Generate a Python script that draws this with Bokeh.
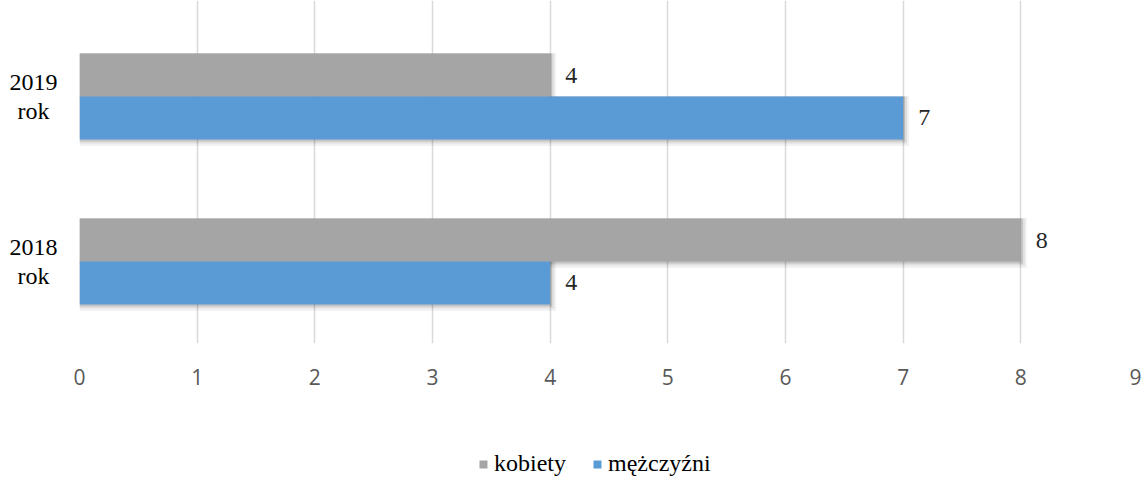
from bokeh.plotting import figure
from bokeh.layouts import column, row
from bokeh.models import Range1d, FixedTicker, Legend, LegendItem, ColumnDataSource
from bokeh.core.properties import value
from bokeh.embed import file_html
from bokeh.resources import INLINE

# ---- data ----
categories = ["2018\nrok", "2019\nrok"]
series_names = ["kobiety", "mężczyźni"]
kobiety = [8, 4]
mezczyzni = [4, 7]
x_ticks = [0, 1, 2, 3, 4, 5, 6, 7, 8, 9]

GREY = "#A5A5A5"
BLUE = "#5B9BD5"
SERIF = "'Liberation Serif', 'Times New Roman', serif"

# ---- layout constants ----
TOTAL_W = 1141
LW = 71                      # width of category-label strip
W, H = TOTAL_W - LW, 403
ML, MR, MT, MB = 8, 3, 0, 60
frame_w = W - ML - MR
frame_h = H - MT - MB
x0, x1 = 0, 9
px_x = (x1 - x0) / frame_w
yr = Range1d(0.503, 2.582)
px_y = (yr.end - yr.start) / frame_h
bar_h = 0.26

centers = [i + 1 for i in range(len(categories))]
y_k = [c + bar_h / 2 for c in centers]
y_m = [c - bar_h / 2 for c in centers]

src = ColumnDataSource(dict(yk=y_k, ym=y_m, k=kobiety, m=mezczyzni,
                            kl=[str(v) for v in kobiety], ml=[str(v) for v in mezczyzni]))

p = figure(width=W, height=H, output_backend="svg", toolbar_location=None,
           x_range=Range1d(x0, x1), y_range=yr, y_axis_location=None,
           min_border_left=ML, min_border_right=MR, min_border_top=MT, min_border_bottom=MB)
p.outline_line_color = None
p.background_fill_color = "white"
p.border_fill_color = "white"

# shadows
for yy, vals in (("yk", kobiety), ("ym", mezczyzni)):
    ys = src.data[yy]
    for dx, dy, grow, alpha in ((6, 3, 7, 0.05), (4, 2, 4, 0.08), (2, 1, 2, 0.12)):
        p.hbar(y=[y - dy * px_y for y in ys], left=0, right=[v + dx * px_x for v in vals],
               height=bar_h + grow * px_y, fill_color="black", fill_alpha=alpha, line_color=None)

rk = p.hbar(y="yk", left=0, right="k", height=bar_h, source=src, fill_color=GREY, line_color=None)
rm = p.hbar(y="ym", left=0, right="m", height=bar_h, source=src, fill_color=BLUE, line_color=None)

for yy, xx, tt in (("yk", "k", "kl"), ("ym", "m", "ml")):
    p.text(x=xx, y=yy, text=tt, source=src, x_offset=15, text_align="left", text_baseline="middle",
           text_font=value(SERIF), text_font_size="24px", text_color="#262626")

p.xaxis.ticker = FixedTicker(ticks=x_ticks)
p.xaxis.axis_line_color = None
p.xaxis.major_tick_line_color = None
p.xaxis.minor_tick_line_color = None
p.xaxis.major_label_text_font = "Open Sans"
p.xaxis.major_label_text_font_size = "21px"
p.xaxis.major_label_text_color = "#595959"
p.xaxis.major_label_standoff = 19

p.xgrid.grid_line_color = "#d9d9d9"
p.xgrid.grid_line_width = 1.5
p.ygrid.grid_line_color = None

# ---- category label strip (left) ----
lf = figure(width=LW, height=H, output_backend="svg", toolbar_location=None,
            x_range=Range1d(0, LW), y_range=yr, x_axis_location=None, y_axis_location=None,
            min_border_left=0, min_border_right=0, min_border_top=MT, min_border_bottom=MB)
lf.grid.visible = False
lf.outline_line_color = None
lf.text(x=33, y=centers, text=categories, text_align="center", text_baseline="middle",
        text_font=value(SERIF), text_font_size="24px", text_color="black", text_line_height=1.12)

# ---- legend strip (legend glyph renderers kept far outside the visible range) ----
LH = 74
q = figure(width=TOTAL_W, height=LH, output_backend="svg", toolbar_location=None,
           x_range=Range1d(100, 101), y_range=Range1d(100, 101),
           x_axis_location=None, y_axis_location=None,
           min_border_left=0, min_border_right=0, min_border_top=0, min_border_bottom=0)
q.grid.visible = False
q.outline_line_color = None
lk = q.hbar(y=centers, right=kobiety, height=0.1, fill_color=GREY, line_color=None)
lm = q.hbar(y=centers, right=mezczyzni, height=0.1, fill_color=BLUE, line_color=None)
legend = Legend(items=[LegendItem(label=series_names[0], renderers=[lk]),
                       LegendItem(label=series_names[1], renderers=[lm])],
                orientation="horizontal", location=(478, 0),
                glyph_width=10, glyph_height=10, label_standoff=6, spacing=26,
                padding=0, margin=0, label_height=20,
                label_text_font=SERIF, label_text_font_size="24px", label_text_color="black",
                border_line_color=None, background_fill_alpha=0)
q.add_layout(legend, "center")

layout = column(row(lf, p, spacing=0), q, spacing=0)
open("out.html", "w").write(file_html(layout, INLINE))
